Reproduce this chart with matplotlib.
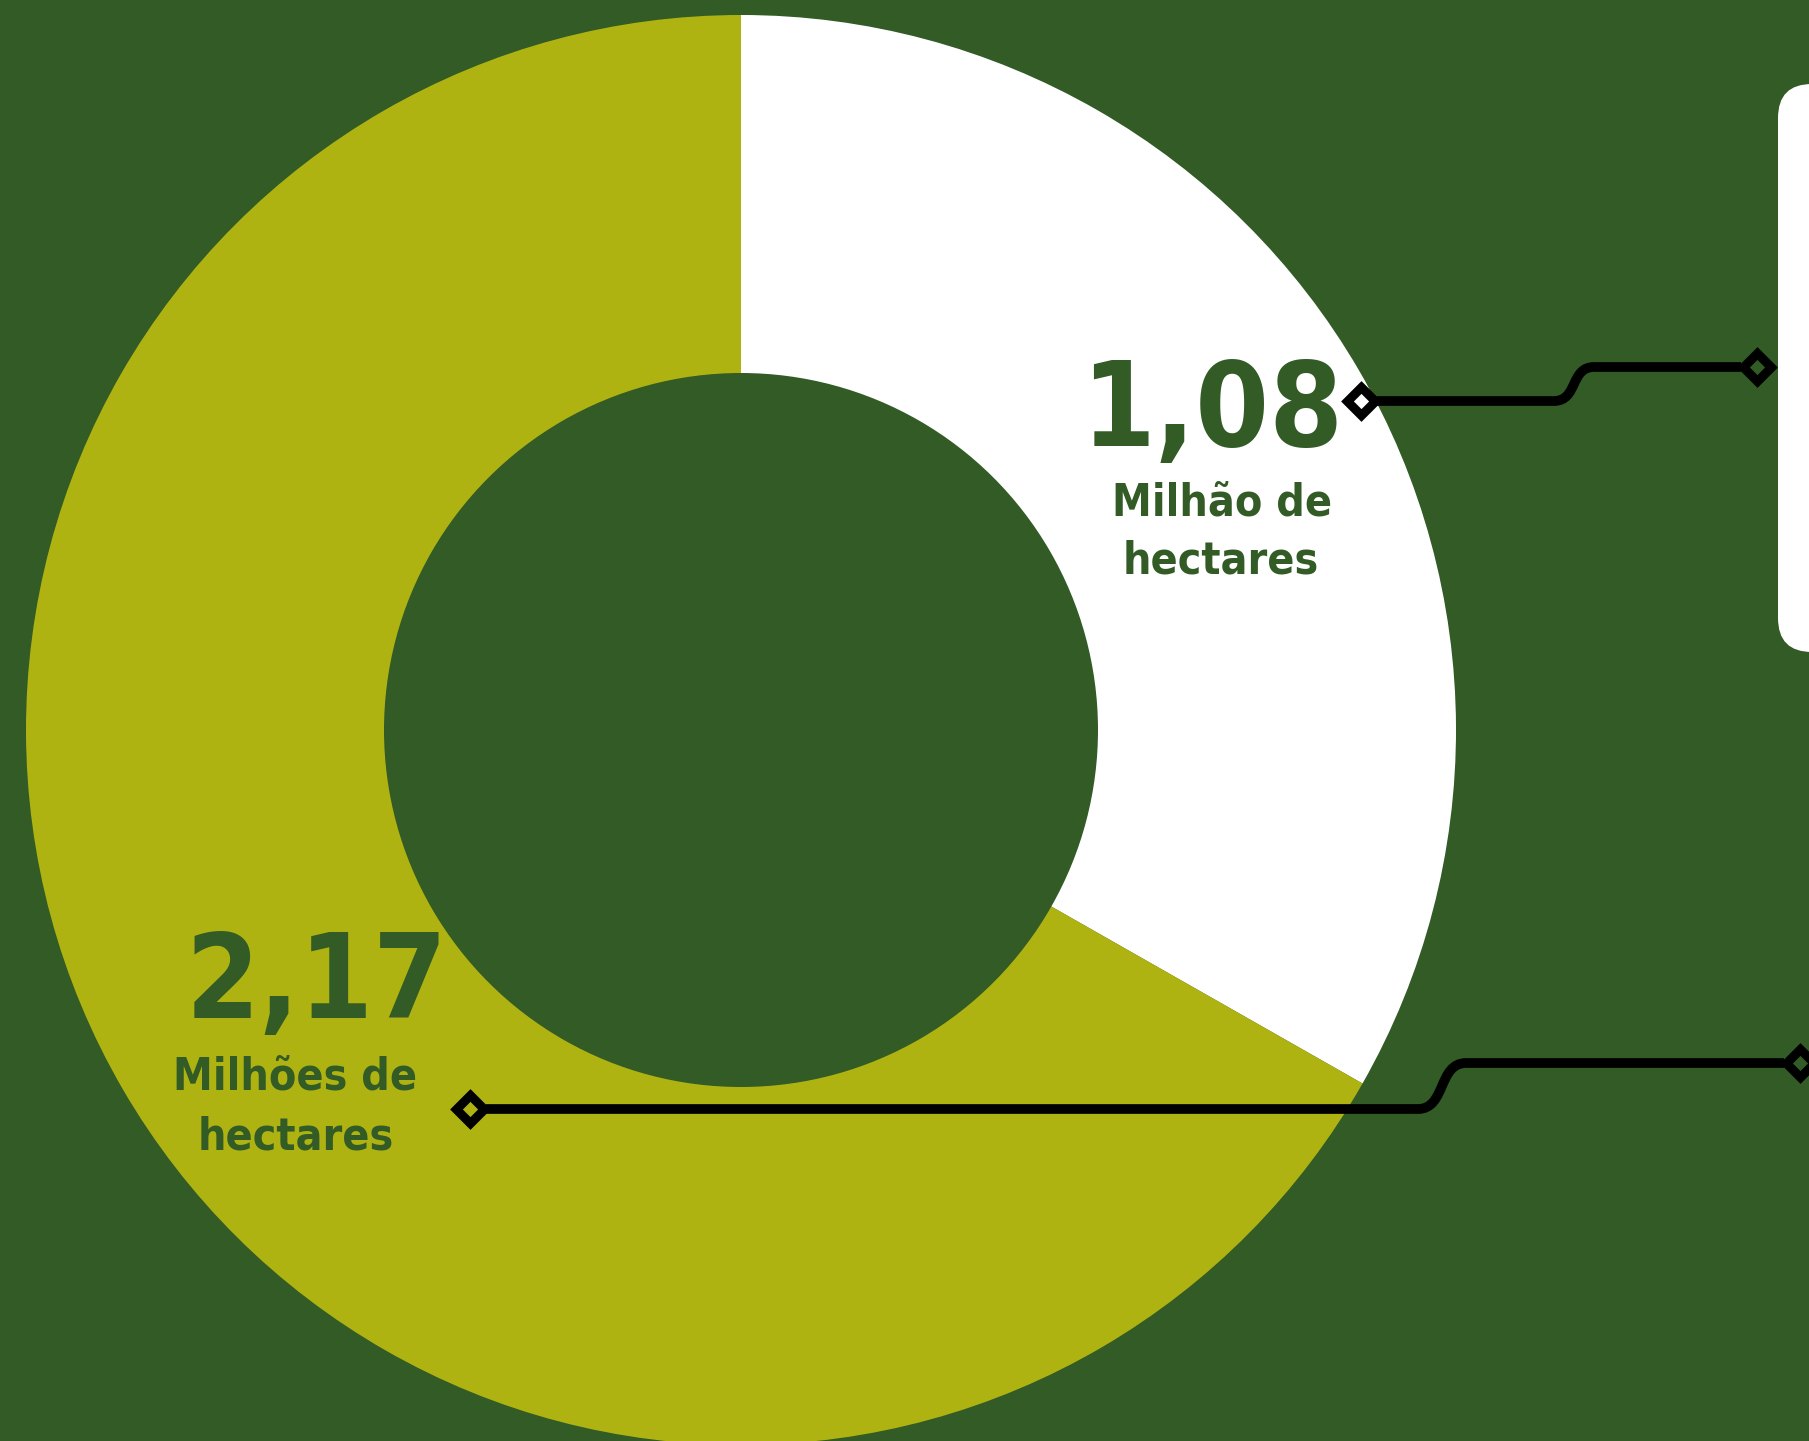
import matplotlib
matplotlib.use("Agg")
import matplotlib.pyplot as plt
from matplotlib.path import Path
from matplotlib.patches import PathPatch, FancyBboxPatch

# ---- data ----
values = [1.08, 2.17]
value_labels = ["1,08", "2,17"]
unit_labels = ["Milhão de\nhectares", "Milhões de\nhectares"]

BG = "#325B26"
WHITE = "#FFFFFF"
OLIVE = "#AFB312"
slice_colors = [WHITE, OLIVE]

W, H = 1809, 1441
def Y(py):
    return H - py

fig = plt.figure(figsize=(W / 100, H / 100), dpi=100, facecolor=BG)
ax = fig.add_axes([0, 0, 1, 1])
ax.set_facecolor(BG)

ax.pie(values, colors=slice_colors, startangle=90, counterclock=False,
       radius=715, center=(741, Y(730)),
       wedgeprops=dict(width=358, edgecolor="none", linewidth=0), frame=True)

ax.set_xlim(0, W)
ax.set_ylim(0, H)
ax.set_aspect("equal")
ax.axis("off")

# right white rounded box
box = FancyBboxPatch((1778, Y(652)), 200, 652 - 84,
                     boxstyle="round,pad=0,rounding_size=34",
                     facecolor=WHITE, edgecolor="none")
ax.add_patch(box)

FAM = ["DejaVu Sans"]
# labels
big_kw = dict(ha="center", va="baseline", color=BG, fontsize=85,
              fontweight="bold", family=FAM, fontstretch="condensed")
small_kw = dict(ha="center", va="baseline", color=BG, fontsize=32,
                fontweight="bold", family=FAM, fontstretch="condensed")

ax.text(1212, Y(446), value_labels[0], **big_kw)
l1, l2 = unit_labels[0].split("\n")
ax.text(1222, Y(516), l1, **small_kw)
ax.text(1221, Y(573), l2, **small_kw)

ax.text(317, Y(1018), value_labels[1], **big_kw)
l1, l2 = unit_labels[1].split("\n")
ax.text(295, Y(1089), l1, **small_kw)
ax.text(296, Y(1150), l2, **small_kw)

# connectors
LW = 7.0
HALF = 16

def connector(x0, y0, xc0, xc1, y1, x1):
    verts = [(x0 + HALF, Y(y0)), (xc0, Y(y0)),
             ((xc0 + xc1) / 2 + 4, Y(y0)), ((xc0 + xc1) / 2 - 4, Y(y1)), (xc1, Y(y1)),
             (x1 - HALF, Y(y1))]
    codes = [Path.MOVETO, Path.LINETO, Path.CURVE4, Path.CURVE4, Path.CURVE4, Path.LINETO]
    ax.add_patch(PathPatch(Path(verts, codes), facecolor="none", edgecolor="black",
                           lw=LW, capstyle="butt", joinstyle="round"))
    ax.plot([x0, x1], [Y(y0), Y(y1)], linestyle="none", marker="D", markersize=14,
            markerfacecolor="none", markeredgecolor="black", markeredgewidth=6.5)

connector(1361, 401, 1554, 1594, 367, 1757)
connector(470, 1109, 1418, 1466, 1063, 1800)

fig.savefig("out.png", dpi=100, facecolor=BG)
